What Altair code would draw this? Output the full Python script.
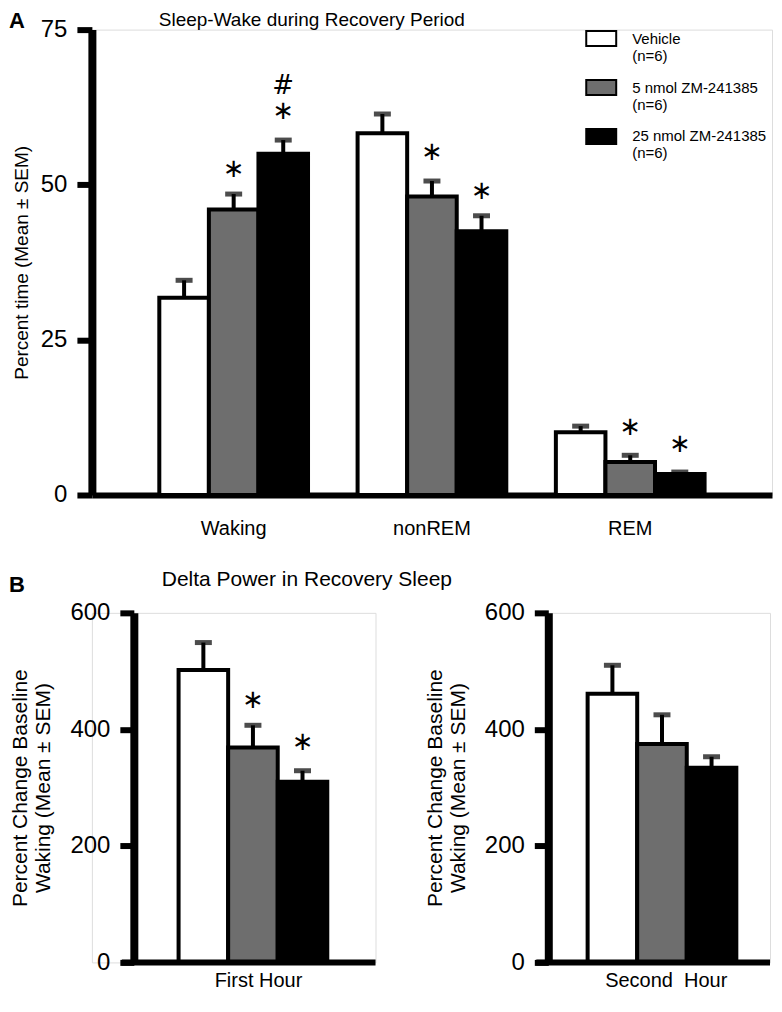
import altair as alt
import pandas as pd

# ---------------- data ----------------
states = ["Waking", "nonREM", "REM"]
treatments = ["Vehicle", "5 nmol ZM-241385", "25 nmol ZM-241385"]
fills = ["#ffffff", "#6e6e6e", "#000000"]

vehicle_pct = [31.8, 58.3, 10.1]
vehicle_sem = [2.8, 3.1, 1.0]
low_pct = [46.0, 48.1, 5.3]
low_sem = [2.5, 2.5, 1.1]
high_pct = [55.0, 42.5, 3.4]
high_sem = [2.2, 2.5, 0.3]

markA_state = ["Waking", "Waking", "Waking", "nonREM", "nonREM", "REM", "REM"]
markA_trt = [1, 2, 2, 1, 2, 1, 2]
markA_text = ["∗", "∗", "#", "∗", "∗", "∗", "∗"]
markA_y = [52.6, 61.9, 65.9, 55.3, 49.0, 10.9, 8.2]

hours = ["First Hour", "Second\u00a0 Hour"]
delta_vehicle = [502, 461]
delta_vehicle_sem = [47, 49]
delta_low = [369, 375]
delta_low_sem = [38, 50]
delta_high = [310, 334]
delta_high_sem = [19, 19]

markB_hour = ["First Hour", "First Hour"]
markB_trt = [1, 2]
markB_y = [451, 378]

# ---------------- tables ----------------
rowsA = []
for i, s in enumerate(states):
    for t, vals, sems in zip(treatments, [vehicle_pct, low_pct, high_pct],
                             [vehicle_sem, low_sem, high_sem]):
        rowsA.append({"state": s, "treatment": t, "pct": vals[i], "top": vals[i] + sems[i]})
dfA = pd.DataFrame(rowsA)

annA = pd.DataFrame({"state": markA_state,
                     "treatment": [treatments[k] for k in markA_trt],
                     "txt": markA_text, "y": markA_y})

rowsB = []
for i, h in enumerate(hours):
    for t, vals, sems in zip(treatments, [delta_vehicle, delta_low, delta_high],
                             [delta_vehicle_sem, delta_low_sem, delta_high_sem]):
        rowsB.append({"hour": h, "treatment": t, "val": vals[i], "top": vals[i] + sems[i]})
dfB = pd.DataFrame(rowsB)

annB = pd.DataFrame({"hour": markB_hour,
                     "treatment": [treatments[k] for k in markB_trt],
                     "txt": ["∗", "∗"], "y": markB_y})

FONT = "Liberation Sans"
STAR_FONT = "DejaVu Sans"


def label(text, x, y, size, bold=False):
    return alt.Chart(pd.DataFrame({"t": [text]})).mark_text(
        fontSize=size, fontWeight="bold" if bold else "normal", color="black",
        align="left", baseline="top").encode(
        text="t:N", x=alt.value(x), y=alt.value(y))


# ---------------- panel A ----------------
A_W, A_H = 681, 466
xA = alt.X("state:N", sort=states,
           scale=alt.Scale(paddingInner=0.25, paddingOuter=0.34),
           axis=alt.Axis(title=None, labelAngle=0, ticks=False, domainWidth=6,
                         domainColor="black", labelFontSize=20, labelPadding=24,
                         labelColor="black"))
xoA = alt.XOffset("treatment:N", sort=treatments,
                  scale=alt.Scale(paddingInner=0, paddingOuter=0))
yA_scale = alt.Scale(domain=[0, 75], nice=False)

baseA = alt.Chart(dfA).encode(x=xA, xOffset=xoA)

barsA = baseA.mark_bar(stroke="black", strokeWidth=4).encode(
    y=alt.Y("pct:Q", scale=yA_scale,
            axis=alt.Axis(values=[0, 25, 50, 75], title="Percent time (Mean ± SEM)",
                          titleFontSize=19, titleFontWeight="normal", titleColor="black",
                          titlePadding=9, labelFontSize=24, labelColor="black",
                          labelPadding=10, tickSize=15, tickWidth=6, tickColor="black",
                          domainWidth=8, domainColor="black", grid=False)),
    fill=alt.Fill("treatment:N", sort=treatments,
                  scale=alt.Scale(domain=treatments, range=fills),
                  legend=alt.Legend(orient="none", legendX=494, legendY=-7, title=None,
                                    symbolType="M-1,-0.5H1V0.5H-1Z", symbolSize=900,
                                    symbolStrokeColor="black", symbolStrokeWidth=2,
                                    symbolOpacity=1,
                                    labelFontSize=15, labelColor="black", labelLimit=0,
                                    labelOffset=15, rowPadding=8, padding=0,
                                    labelBaseline="middle",
                                    labelExpr="[datum.label, ' (n=6)']")),
)
errA = baseA.mark_rule(strokeWidth=4, color="black").encode(
    y=alt.Y("pct:Q", scale=yA_scale), y2="top:Q")
capA = baseA.mark_tick(orient="horizontal", size=17, thickness=5, color="black").encode(
    y=alt.Y("top:Q", scale=yA_scale))
annotA = alt.Chart(annA).mark_text(font=STAR_FONT, fontSize=26, color="black",
                                   baseline="middle").encode(
    x=alt.X("state:N", sort=states), xOffset=alt.XOffset("treatment:N", sort=treatments),
    y=alt.Y("y:Q", scale=yA_scale), text="txt:N")

panelA = alt.layer(
    barsA, errA, capA, annotA,
    label("A", -83, -19, 22, bold=True),
    label("Sleep-Wake during Recovery Period", 67, -19, 19),
).properties(width=A_W, height=A_H)

# ---------------- panel B ----------------
B_H = 350
yB_scale = alt.Scale(domain=[0, 600], nice=False)


def panelB(hour, width, axis_shift, pad_outer, align, extra):
    d = dfB[dfB["hour"] == hour]
    xB = alt.X("hour:N",
               scale=alt.Scale(paddingInner=0, paddingOuter=pad_outer, align=align),
               axis=alt.Axis(title=None, labelAngle=0, ticks=False, domain=False,
                             labelFontSize=20, labelPadding=8, labelColor="black"))
    xo = alt.XOffset("treatment:N", sort=treatments,
                     scale=alt.Scale(paddingInner=0, paddingOuter=0))
    base = alt.Chart(d).encode(x=xB, xOffset=xo)
    bars = base.mark_bar(stroke="black", strokeWidth=4).encode(
        y=alt.Y("val:Q", scale=yB_scale,
                axis=alt.Axis(values=[0, 200, 400, 600],
                              title=["Percent Change Baseline", "Waking (Mean ± SEM)"],
                              titleFontSize=21, titleFontWeight="normal", titleColor="black",
                              titleLineHeight=23, titlePadding=16,
                              labelFontSize=24, labelColor="black", labelPadding=10,
                              tickSize=14, tickWidth=6, tickColor="black",
                              domainWidth=8, domainColor="black", grid=False,
                              offset=-axis_shift)),
        fill=alt.Fill("treatment:N", sort=treatments,
                      scale=alt.Scale(domain=treatments, range=fills), legend=None),
    )
    err = base.mark_rule(strokeWidth=4, color="black").encode(
        y=alt.Y("val:Q", scale=yB_scale), y2="top:Q")
    cap = base.mark_tick(orient="horizontal", size=17, thickness=5, color="black").encode(
        y=alt.Y("top:Q", scale=yB_scale))
    baseline = alt.Chart(pd.DataFrame({"v": [0]})).mark_rule(
        strokeWidth=6, color="black").encode(
        y=alt.Y("v:Q", scale=yB_scale), x=alt.value(axis_shift - 12), x2=alt.value(width))
    layers = [bars, err, cap, baseline] + extra
    return alt.layer(*layers).properties(width=width, height=B_H)


starsB = alt.Chart(annB).mark_text(font=STAR_FONT, fontSize=26, color="black",
                                   baseline="middle").encode(
    x=alt.X("hour:N"), xOffset=alt.XOffset("treatment:N", sort=treatments),
    y=alt.Y("y:Q", scale=yB_scale), text="txt:N")

SHIFT = 42
leftB = panelB(hours[0], 284, SHIFT, 0.3875, 0.70,
               [starsB, label("B", -83, -38, 22, bold=True),
                label("Delta Power in Recovery Sleep", 70, -44, 21)])
rightB = panelB(hours[1], 222, 0, 0.205, 0.61, [])

rowB = alt.hconcat(leftB, rightB, spacing=173, bounds="flush").resolve_scale(
    fill="independent")

chart = alt.vconcat(panelA, rowB, spacing=118, bounds="flush").resolve_scale(
    fill="independent").resolve_legend(fill="independent").properties(
    padding=0
).configure_view(stroke=None).configure(font=FONT)

chart.save("out.html", embed_options={"renderer": "svg", "actions": False})
